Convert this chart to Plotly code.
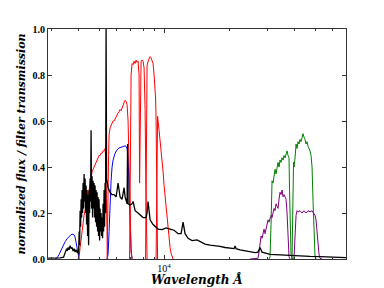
import plotly.graph_objects as go

# ---- data (wavelength in Angstrom, normalized flux / transmission) ----
spec_wave = [2904, 3130, 3300, 3425, 3481, 3537, 3565, 3594, 3632, 3671, 3710, 3750, 3790, 3831, 3873, 3914,
             3956, 3999, 4020, 4042, 4063, 4085, 4107, 4129, 4151, 4173, 4195, 4217, 4240, 4262, 4285, 4308,
             4331, 4354, 4377, 4401, 4424, 4448, 4472, 4496, 4520, 4544, 4568, 4592, 4617, 4642, 4666, 4691,
             4716, 4741, 4766, 4792, 4818, 4844, 4870, 4896, 4922, 4948, 4975, 5001, 5028, 5055, 5082, 5109,
             5136, 5164, 5191, 5219, 5247, 5275, 5303, 5332, 5360, 5389, 5418, 5447, 5505, 5623, 5744, 5868,
             5995, 6060, 6124, 6190, 6256, 6392, 6460, 6529, 6599, 6670, 6741, 6777, 6813, 6961, 7111, 7187,
             7342, 7578, 7743, 7995, 8254, 8343, 8432, 8523, 8614, 8894, 9183, 9380, 9789, 10216, 10661, 11126,
             11612, 11987, 12246, 12510, 12915, 13479, 14215, 14678, 15480, 16331, 17224, 18170, 19165, 20212,
             21090, 21320, 21544, 22484, 23714, 25012, 26379, 27236, 27826, 28425, 29350, 30957, 34435, 38312,
             42620, 47420, 52750, 58690, 69600]
spec_flux = [0.004, 0.004, 0.005, 0.008, 0.03, 0.045, 0.035, 0.05, 0.04, 0.058, 0.045, 0.05, 0.035, 0.045, 0.03, 0.04,
             0.028, 0.035, 0.02, 0.12, 0.06, 0.21, 0.14, 0.26, 0.18, 0.30, 0.20, 0.33, 0.22, 0.37, 0.25, 0.35,
             0.20, 0.32, 0.15, 0.30, 0.10, 0.28, 0.06, 0.30, 0.20, 0.35, 0.25, 0.56, 0.22, 0.36, 0.18, 0.34,
             0.22, 0.33, 0.18, 0.32, 0.16, 0.30, 0.14, 0.29, 0.12, 0.27, 0.10, 0.26, 0.08, 0.22, 0.12, 0.20,
             0.10, 0.18, 0.09, 0.24, 0.12, 0.30, 0.14, 0.33, 0.20, 1.0, 0.35, 0.33, 0.31, 0.29, 0.28, 0.28,
             0.27, 0.30, 0.33, 0.30, 0.27, 0.26, 0.28, 0.31, 0.27, 0.25, 0.24, 0.50, 0.24, 0.235, 0.24, 0.25,
             0.21, 0.20, 0.19, 0.18, 0.18, 0.20, 0.25, 0.19, 0.17, 0.15, 0.135, 0.13, 0.128, 0.135, 0.13, 0.125,
             0.11, 0.11, 0.16, 0.11, 0.09, 0.08, 0.083, 0.075, 0.065, 0.06, 0.058, 0.055, 0.05, 0.048,
             0.045, 0.057, 0.045, 0.04, 0.035, 0.032, 0.028, 0.03, 0.05, 0.03, 0.025, 0.02, 0.018, 0.015,
             0.013, 0.011, 0.01, 0.008, 0.006]

# blue filters
u_wave = [3130, 3196, 3265, 3336, 3408, 3481, 3556, 3632, 3710, 3790, 3831, 3873, 3914, 3956, 3999, 4042]
u_trans = [0.0, 0.005, 0.02, 0.04, 0.06, 0.075, 0.088, 0.098, 0.106, 0.108, 0.105, 0.095, 0.07, 0.035, 0.01, 0.0]

b2_wave = [5447, 5505, 5564, 5623, 5683, 5744, 5806, 5932, 6060, 6190, 6324, 6460, 6599, 6670, 6741, 6813,
           6887, 6961, 7035, 7111]
b2_trans = [0.0, 0.02, 0.12, 0.25, 0.34, 0.40, 0.43, 0.46, 0.475, 0.483, 0.487, 0.49, 0.492, 0.49, 0.48, 0.44,
            0.30, 0.14, 0.04, 0.0]

# red filters (g, r, i, z, y)
g_wave = [3999, 4042, 4085, 4129, 4173, 4217, 4262, 4308, 4354, 4401, 4448, 4496, 4544, 4592, 4642, 4691, 4741,
          4792, 4844, 4896, 4948, 5001, 5055, 5109, 5164, 5219, 5275, 5332, 5360, 5389, 5418, 5447, 5476]
g_trans = [0.0, 0.01, 0.05, 0.09, 0.13, 0.16, 0.19, 0.21, 0.24, 0.26, 0.28, 0.30, 0.33, 0.35, 0.38, 0.39, 0.40,
           0.41, 0.42, 0.43, 0.44, 0.45, 0.45, 0.46, 0.46, 0.47, 0.47, 0.48, 0.45, 0.30, 0.10, 0.02, 0.0]

r_wave = [5447, 5476, 5505, 5534, 5564, 5623, 5683, 5744, 5806, 5868, 5932, 5995, 6060, 6124, 6190, 6256, 6324,
          6392, 6460, 6529, 6599, 6670, 6741, 6813, 6887, 6961, 7035, 7111]
r_trans = [0.0, 0.10, 0.30, 0.45, 0.54, 0.57, 0.58, 0.59, 0.60, 0.60, 0.61, 0.62, 0.63, 0.635, 0.64, 0.65, 0.645,
           0.66, 0.67, 0.68, 0.69, 0.685, 0.67, 0.60, 0.40, 0.15, 0.03, 0.0]

i_wave = [6924, 6961, 6998, 7035, 7111, 7187, 7264, 7342, 7421, 7499, 7578, 7660, 7701, 7743, 7785, 7826, 7910,
          7995, 8081, 8167, 8254, 8343]
i_trans = [0.0, 0.20, 0.60, 0.80, 0.85, 0.845, 0.86, 0.85, 0.865, 0.855, 0.86, 0.80, 0.33, 0.60, 0.84, 0.86, 0.865,
           0.86, 0.83, 0.65, 0.25, 0.0]

z_wave = [8210, 8254, 8298, 8343, 8432, 8522, 8614, 8706, 8799, 8894, 8990, 9086, 9135, 9183, 9232, 9282, 9331]
z_trans = [0.0, 0.30, 0.70, 0.84, 0.86, 0.875, 0.88, 0.875, 0.86, 0.85, 0.80, 0.74, 0.70, 0.60, 0.30, 0.05, 0.0]

y_wave = [9183, 9232, 9282, 9331, 9380, 9481, 9583, 9685, 9789, 9894, 10000, 10107, 10216, 10325, 10435, 10547,
          10661, 10775, 10889, 11007]
y_trans = [0.0, 0.20, 0.50, 0.62, 0.60, 0.56, 0.52, 0.47, 0.44, 0.38, 0.32, 0.27, 0.22, 0.17, 0.12, 0.08,
           0.05, 0.025, 0.01, 0.0]

# green filters (IR channels 1 and 2)
g1_wave = [30627, 30957, 31290, 31457, 31623, 31962, 32305, 32651, 33000, 33355, 33712, 34072, 34435, 34807, 35185,
           35563, 35946, 36328, 36720, 37110, 37507, 37905, 38107, 38312, 38726, 39140]
g1_trans = [0.0, 0.01, 0.15, 0.30, 0.34, 0.33, 0.37, 0.39, 0.37, 0.40, 0.42, 0.40, 0.43, 0.42, 0.44,
            0.43, 0.45, 0.44, 0.46, 0.47, 0.45, 0.44, 0.30, 0.12, 0.02, 0.0]

g2_wave = [39140, 39350, 39560, 39770, 39990, 40420, 40850, 41290, 41730, 42170, 42620, 43080, 43540, 44010, 44476,
           44960, 45434, 45920, 46420, 46913, 47420, 47930, 48450, 48970, 49485, 50030, 50551]
g2_trans = [0.0, 0.10, 0.30, 0.42, 0.40, 0.44, 0.50, 0.48, 0.51, 0.50, 0.52, 0.51, 0.53, 0.545, 0.53,
            0.52, 0.50, 0.51, 0.49, 0.48, 0.47, 0.45, 0.40, 0.25, 0.08, 0.01, 0.0]

# purple filters (IR channels 1 and 2)
p1_wave = [25012, 27236, 27530, 27826, 28124, 28425, 28727, 29040, 29350, 29663, 29981, 30303, 30627, 30957, 31290,
           31623, 31962, 32305, 32651, 33000, 33355, 33712, 34072, 34435, 34807, 35185, 35563, 35946, 36328,
           36720, 37110, 37507, 37905, 38312]
p1_trans = [0.0, 0.003, 0.03, 0.08, 0.10, 0.09, 0.12, 0.13, 0.11, 0.13, 0.15, 0.17, 0.16, 0.18, 0.19,
            0.18, 0.20, 0.22, 0.21, 0.24, 0.23, 0.22, 0.26, 0.29, 0.28, 0.30, 0.27, 0.28, 0.27,
            0.26, 0.20, 0.06, 0.01, 0.0]

p2_wave = [39140, 39990, 40420, 40850, 41290, 41730, 42620, 43540, 44476, 45434, 46420, 47420, 48450, 49485,
           50030, 50551, 51100, 51640, 52200, 52750, 53890]
p2_trans = [0.0, 0.005, 0.10, 0.19, 0.21, 0.205, 0.21, 0.20, 0.21, 0.20, 0.21, 0.205, 0.21, 0.20,
            0.19, 0.17, 0.12, 0.06, 0.02, 0.003, 0.0]

x_major = [10000]
x_major_text = ["10<sup>4</sup>"]
x_minor = [3000, 4000, 5000, 6000, 7000, 8000, 9000, 20000, 30000, 40000, 50000, 60000]
y_ticks = [0.0, 0.2, 0.4, 0.6, 0.8, 1.0]
y_ticktext = ["0.0", "0.2", "0.4", "0.6", "0.8", "1.0"]
x_title = "Wavelength Å"
y_title = "normalized flux / filter transmission"

# ---- figure ----
fig = go.Figure()

filters = [
    (u_wave, u_trans, "#0000ff"),
    (b2_wave, b2_trans, "#0000ff"),
    (g_wave, g_trans, "#ff0000"),
    (r_wave, r_trans, "#ff0000"),
    (i_wave, i_trans, "#ff0000"),
    (z_wave, z_trans, "#ff0000"),
    (y_wave, y_trans, "#ff0000"),
    (p1_wave, p1_trans, "#800080"),
    (p2_wave, p2_trans, "#800080"),
    (g1_wave, g1_trans, "#008000"),
    (g2_wave, g2_trans, "#008000"),
]
for w, t, c in filters:
    fig.add_trace(go.Scatter(x=w, y=t, mode="lines", line=dict(color=c, width=1), showlegend=False))

fig.add_trace(go.Scatter(x=spec_wave, y=spec_flux, mode="lines",
                         line=dict(color="#000000", width=1.3), showlegend=False))

serif = "Liberation Serif"
title_font = "DejaVu Serif"
fig.update_layout(
    width=384, height=288,
    margin=dict(l=48, r=38, t=29, b=29),
    paper_bgcolor="white", plot_bgcolor="white",
    font=dict(family=serif, color="black"),
)
fig.update_xaxes(
    type="log", range=[3.4625, 4.8425], automargin=False,
    showgrid=False, zeroline=False,
    showline=True, linecolor="#333333", linewidth=1, mirror="ticks",
    ticks="inside", ticklen=4, tickcolor="#333333",
    tickmode="array", tickvals=x_major, ticktext=x_major_text,
    tickfont=dict(family=serif, size=10),
    minor=dict(tickmode="array", tickvals=x_minor, ticks="inside", ticklen=2, tickcolor="#333333"),
)
fig.update_yaxes(
    range=[0, 1.0], automargin=False,
    showgrid=False, zeroline=False,
    showline=True, linecolor="#333333", linewidth=1, mirror="ticks",
    ticks="inside", ticklen=4, tickcolor="#333333",
    tickmode="array", tickvals=y_ticks, ticktext=y_ticktext,
    tickfont=dict(family=serif, size=10, weight="bold"),
    title=dict(text=y_title,
               font=dict(family=title_font, size=11, weight="bold", style="italic"), standoff=4),
)
fig.add_annotation(
    text=x_title, xref="paper", yref="paper", x=0.5, y=0,
    xanchor="center", yanchor="top", yshift=-11, showarrow=False,
    font=dict(family=title_font, size=12, weight="bold", style="italic", color="black"),
)

# remove the default page margin so the figure fills the window exactly
fig.write_html("out.html", config={"displayModeBar": False},
               post_script="document.body.style.margin='0';")
